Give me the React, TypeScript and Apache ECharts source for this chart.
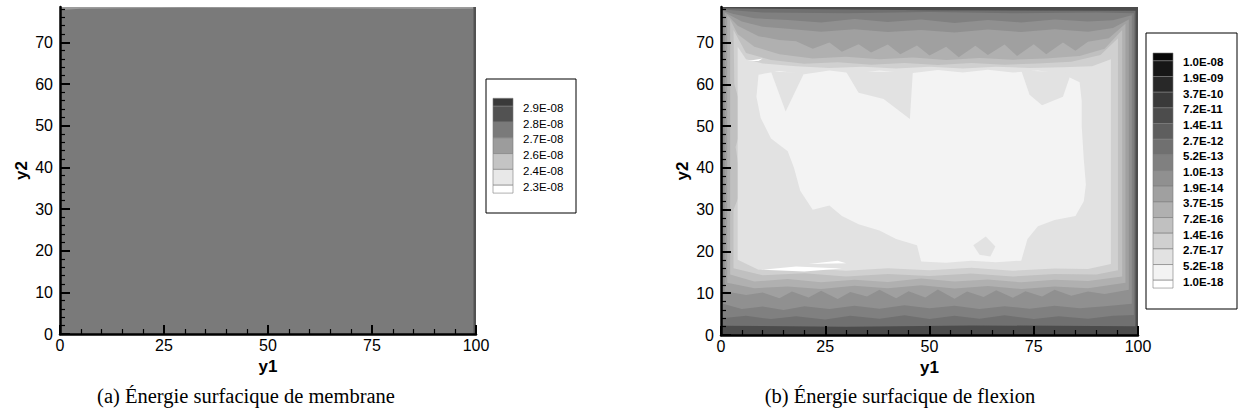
import React, { useEffect, useRef } from "react";
import * as echarts from "echarts";

// ---------- data ----------
const xTicks = [0, 25, 50, 75, 100];
const yMajorTicks = [0, 10, 20, 30, 40, 50, 60, 70];
const yMinorTicks = [2, 4, 6, 8, 12, 14, 16, 18, 22, 24, 26, 28, 32, 34, 36, 38, 42, 44, 46, 48, 52, 54, 56, 58, 62, 64, 66, 68, 72, 74, 76, 78];
const xMax = 100;
const yMax = 78.5;

// (a) membrane: levels (top -> bottom) and band colours (bottom -> top)
const membraneLevels = ["2.9E-08", "2.8E-08", "2.7E-08", "2.6E-08", "2.4E-08", "2.3E-08"];
const membraneColors = ["#ffffff", "#e8e8e8", "#c4c4c4", "#9c9c9c", "#7a7a7a", "#525252", "#3a3a3a"];

// membrane field: contour bands (painted in order) and their band index
const memField = [[0, 0], [100, 0], [100, 78.5], [0, 78.5]];
const memTopEdge = [[0, 78.5], [0, 77.8], [5, 78.1], [30, 78.3], [60, 78.2], [92, 78.0], [99.3, 78.1], [99.3, 78.5]];
const memRightEdge = [[99.4, 0], [100, 0], [100, 78.5], [99.4, 78.5]];
const membraneContours = [memField, memTopEdge, memRightEdge];
const membraneBands = [4, 3, 5];

// (b) flexion: levels (top -> bottom) and band colours (bottom -> top)
const flexionLevels = ["1.0E-08", "1.9E-09", "3.7E-10", "7.2E-11", "1.4E-11", "2.7E-12", "5.2E-13", "1.0E-13", "1.9E-14", "3.7E-15", "7.2E-16", "1.4E-16", "2.7E-17", "5.2E-18", "1.0E-18"];
const flexionColors = ["#ffffff", "#f3f3f3", "#e2e2e2", "#d0d0d0", "#c0c0c0", "#b0b0b0", "#a0a0a0", "#909090", "#808080", "#707070", "#5e5e5e", "#4c4c4c", "#3a3a3a", "#282828", "#161616", "#080808"];

const flexA = [[0, 0], [100, 0], [100, 78.5], [0, 78.5]];
const flexB = [[0.1, 2.2], [30, 2.0], [60, 2.3], [99.4, 2.1], [99.4, 77.6], [50, 77.7], [0.1, 78.2]];
const flexC = [[0.25, 4.0], [6, 4.6], [12, 3.8], [18, 4.5], [25, 3.7], [31, 4.6], [38, 3.9], [44, 4.7], [50, 3.8], [56, 4.6], [62, 3.9], [68, 4.7], [75, 3.8], [81, 4.5], [88, 3.9], [94, 4.6], [99, 4.8], [99, 77.0], [90, 77.2], [70, 77.0], [50, 77.3], [30, 77.0], [10, 77.2], [0.25, 77.9]];
const flexD = [[0.5, 7.5], [5, 6.2], [10, 6.8], [15, 6.0], [20, 6.9], [26, 6.2], [32, 7.0], [38, 6.3], [44, 7.1], [50, 6.4], [56, 7.0], [62, 6.2], [68, 6.9], [74, 6.3], [80, 7.0], [86, 6.4], [92, 6.9], [98.5, 7.5], [98.5, 76.5], [94, 75.3], [88, 75.0], [80, 75.5], [72, 74.8], [64, 75.4], [56, 74.7], [48, 75.5], [40, 74.9], [32, 75.6], [24, 74.8], [16, 75.4], [8, 75.8], [3, 76.8], [0.5, 77.6]];
const flexE = [[0.9, 10.5], [6, 9.6], [10, 10.2], [14, 8.8], [17, 10.4], [21, 9.0], [24, 10.6], [28, 8.6], [31, 10.3], [35, 9.2], [38, 10.8], [42, 8.8], [45, 10.5], [49, 9.0], [52, 10.9], [56, 8.7], [59, 10.4], [63, 9.1], [66, 10.7], [70, 8.9], [73, 10.5], [77, 9.2], [80, 10.8], [84, 9.4], [88, 10.4], [92, 9.8], [97.8, 10.8], [97.8, 75.5], [94, 73.5], [88, 72.6], [80, 73.2], [72, 72.5], [64, 73.1], [56, 72.4], [48, 73.0], [40, 72.5], [32, 73.2], [24, 72.6], [16, 73.3], [10, 73.8], [5, 75], [0.9, 77.2]];
const flexF = [[1.5, 12.5], [8, 11.2], [16, 11.6], [24, 11.0], [32, 11.8], [40, 11.2], [48, 11.9], [56, 11.1], [64, 11.7], [72, 11.0], [80, 11.6], [88, 11.2], [97, 12.5], [97, 74.5], [93, 71], [88, 70.2], [85, 68.0], [82, 70.0], [78, 67.2], [75, 69.6], [71, 66.8], [68, 69.5], [64, 67.0], [61, 69.2], [57, 66.5], [54, 69.0], [50, 66.9], [47, 69.3], [43, 67.2], [40, 69.5], [36, 67.6], [33, 69.6], [29, 67.8], [26, 70.0], [22, 68.5], [18, 70.3], [14, 70.6], [9, 71.5], [4, 74], [1.5, 76.6]];
const flexG = [[2.2, 14.5], [8, 12.8], [16, 13.4], [24, 12.6], [32, 13.2], [40, 12.7], [48, 13.5], [56, 12.8], [64, 13.3], [72, 12.6], [80, 13.2], [88, 12.9], [96.2, 14.0], [96.2, 73], [92, 68.5], [86, 66.8], [78, 66.2], [70, 65.9], [62, 66.3], [54, 65.8], [46, 66.4], [38, 66.0], [30, 66.6], [22, 66.2], [14, 67.2], [8, 69], [4, 72], [2.2, 75.5]];
const flexH = [[3, 16], [10, 14.3], [20, 14.8], [30, 14.0], [40, 14.6], [50, 14.1], [60, 14.7], [70, 14.0], [80, 14.6], [90, 14.5], [95.2, 15.5], [95.2, 71], [91, 67], [84, 65.4], [76, 65.0], [68, 64.7], [60, 65.1], [52, 64.6], [44, 65.1], [36, 64.7], [28, 65.3], [20, 64.9], [12, 65.8], [6, 67.5], [3, 73], [3.2, 60], [5.5, 52], [3.5, 45], [5, 35], [3, 30]];
const flexI = [[4, 18], [9, 15.6], [20, 16.0], [30, 15.4], [40, 16.0], [50, 15.5], [60, 16.1], [70, 15.4], [80, 15.9], [88, 15.8], [93.5, 17], [93.5, 66], [89, 64.3], [82, 64.1], [74, 63.9], [66, 64.2], [58, 63.8], [50, 64.2], [42, 63.8], [34, 64.2], [26, 63.9], [18, 64.3], [10, 65], [6, 66], [4, 69]];
const flexJ = [[9, 62.3], [14, 63.2], [20, 62.4], [26, 63.3], [32, 62.6], [38, 63.3], [45, 62.6], [52, 63.4], [58, 62.8], [64, 63.5], [70, 62.8], [76, 63.3], [82, 62.4], [86, 60.5], [86.5, 56], [86.5, 50], [87, 42], [87.5, 36], [87, 32], [85, 28.5], [80, 27.5], [76, 26], [73.5, 23], [72, 17.8], [66, 17.4], [60, 17.8], [54, 17.3], [48, 17.6], [47.5, 19.5], [47, 21.5], [42, 23], [38, 25], [33, 26.5], [29, 28.5], [26, 31], [22, 30], [19, 34.5], [17.5, 40], [16, 44], [12, 47], [9.5, 52], [8.5, 57]];
const flexSpikeTop = [[30, 63], [46, 63], [45.3, 51.7], [39, 56.5], [33, 58]];
const flexSpikeLeft = [[12, 63], [20, 62.8], [15.5, 53.5]];
const flexPatchRight = [[72, 63.3], [84, 62.8], [82, 57], [77, 55], [74, 57.5]];
const flexDiamond = [[60.5, 21.5], [63.5, 23.6], [65.8, 21.2], [64.6, 18.8], [62, 19.2]];
const flexStreak1 = [[9.5, 15.6], [18, 16.4], [29, 15.9], [20, 15.2]];
const flexStreak2 = [[21, 17.0], [28, 17.8], [30, 17.2]];
const flexStreak3 = [[6.4, 65.6], [10, 66.2], [9, 65.6]];

const flexionContours = [flexA, flexB, flexC, flexD, flexE, flexF, flexG, flexH, flexI, flexJ, flexSpikeTop, flexSpikeLeft, flexPatchRight, flexDiamond, flexStreak1, flexStreak2, flexStreak3];
const flexionBands = [11, 9, 8, 7, 6, 5, 4, 3, 2, 1, 2, 2, 2, 2, 0, 0, 0];

const captionA = "(a) Énergie surfacique de membrane";
const captionB = "(b) Énergie surfacique de flexion";

// ---------- helpers ----------
const FONT = "Liberation Sans";

function makeRender(contours: number[][][], bands: number[], colors: string[]) {
  return (params: any, api: any) => {
    const poly = contours[params.dataIndex];
    const pts = poly.map((p) => api.coord(p));
    return {
      type: "polygon",
      shape: { points: pts },
      style: { fill: colors[bands[params.dataIndex]], stroke: null },
    };
  };
}

function buildLegend(
  box: { x: number; y: number; w: number; h: number },
  swX: number,
  swTop: number,
  unit: number,
  labels: string[],
  colors: string[],
  bold: boolean
) {
  const els: any[] = [];
  els.push({
    type: "rect",
    shape: { x: box.x, y: box.y, width: box.w, height: box.h },
    style: { fill: "#fff", stroke: "#000", lineWidth: 1 },
    z: 10,
  });
  const n = labels.length;
  let y = swTop;
  for (let b = n; b >= 0; b--) {
    const h = b === n || b === 0 ? unit / 2 : unit;
    els.push({
      type: "rect",
      shape: { x: swX, y, width: 20, height: h },
      style: { fill: colors[b], stroke: "#7a7a7a", lineWidth: 0.6 },
      z: 11,
    });
    y += h;
  }
  labels.forEach((t, i) => {
    els.push({
      type: "text",
      x: swX + 30,
      y: swTop + unit / 2 + i * unit + 1.5,
      style: {
        text: t,
        fill: "#000",
        fontSize: 11.5,
        fontFamily: FONT,
        fontWeight: bold ? "bold" : "normal",
        align: "left",
        verticalAlign: "middle",
      },
      z: 12,
    });
  });
  return els;
}

function xAxisCfg(gridIndex: number) {
  return {
    gridIndex,
    type: "value",
    min: 0,
    max: xMax,
    interval: 25,
    z: 5,
    axisLine: { show: true, onZero: false, lineStyle: { color: "#000", width: 2.5 } },
    axisTick: { show: true, inside: true, length: 9, customValues: xTicks, lineStyle: { color: "#000", width: 2 } },
    minorTick: { show: true, splitNumber: 5, length: 5, lineStyle: { color: "#000", width: 1.2 } },
    axisLabel: { show: true, customValues: xTicks, color: "#000", fontSize: 16, fontFamily: FONT, margin: 3 },
    splitLine: { show: false },
    minorSplitLine: { show: false },
    name: "y1",
    nameLocation: "middle",
    nameGap: 16,
    nameTextStyle: { color: "#000", fontSize: 17, fontWeight: "bold", fontFamily: FONT },
  };
}

function yAxisCfg(gridIndex: number) {
  return {
    gridIndex,
    type: "value",
    position: "left",
    min: 0,
    max: yMax,
    z: 5,
    axisLine: { show: true, onZero: false, lineStyle: { color: "#000", width: 2.5 } },
    axisTick: { show: true, inside: true, length: 10, customValues: yMajorTicks, lineStyle: { color: "#000", width: 2 } },
    axisLabel: { show: true, customValues: yMajorTicks, color: "#000", fontSize: 16, fontFamily: FONT, margin: 7 },
    splitLine: { show: false },
    name: "y2",
    nameLocation: "middle",
    nameGap: 30,
    nameTextStyle: { color: "#000", fontSize: 17, fontWeight: "bold", fontFamily: FONT },
  };
}

function yMinorCfg(gridIndex: number) {
  return {
    gridIndex,
    type: "value",
    position: "left",
    min: 0,
    max: yMax,
    z: 5,
    axisLine: { show: false },
    axisTick: { show: true, inside: true, length: 5, customValues: yMinorTicks, lineStyle: { color: "#000", width: 1.2 } },
    axisLabel: { show: false },
    splitLine: { show: false },
  };
}

export default function App() {
  const ref = useRef<HTMLDivElement>(null);

  useEffect(() => {
    if (!ref.current) return;
    const chart = echarts.init(ref.current, undefined, { renderer: "svg" });

    const graphics: any[] = [
      ...buildLegend({ x: 486, y: 79, w: 90, h: 134 }, 493, 98.3, 15.8, membraneLevels, membraneColors, false),
      ...buildLegend({ x: 1146, y: 33, w: 91, h: 276 }, 1153, 53, 15.67, flexionLevels, flexionColors, true),
      {
        type: "text",
        x: 246,
        y: 396,
        style: { text: captionA, fill: "#000", fontSize: 20.5, fontFamily: "Liberation Serif", align: "center", verticalAlign: "middle" },
      },
      {
        type: "text",
        x: 900,
        y: 396,
        style: { text: captionB, fill: "#000", fontSize: 20.5, fontFamily: "Liberation Serif", align: "center", verticalAlign: "middle" },
      },
    ];

    chart.setOption({
      animation: false,
      backgroundColor: "#fff",
      textStyle: { fontFamily: FONT },
      grid: [
        { left: 60, top: 7, width: 416, height: 327 },
        { left: 721, top: 7, width: 417, height: 328 },
      ],
      xAxis: [xAxisCfg(0), xAxisCfg(1)],
      yAxis: [yAxisCfg(0), yMinorCfg(0), yAxisCfg(1), yMinorCfg(1)],
      series: [
        {
          type: "custom",
          xAxisIndex: 0,
          yAxisIndex: 0,
          z: 1,
          silent: true,
          clip: true,
          data: membraneContours.map((_, i) => [i]),
          renderItem: makeRender(membraneContours, membraneBands, membraneColors),
        },
        {
          type: "custom",
          xAxisIndex: 1,
          yAxisIndex: 2,
          z: 1,
          silent: true,
          clip: true,
          data: flexionContours.map((_, i) => [i]),
          renderItem: makeRender(flexionContours, flexionBands, flexionColors),
        },
      ],
      graphic: graphics,
    });

    return () => chart.dispose();
  }, []);

  return (
    <div
      ref={ref}
      style={{ position: "fixed", left: 0, top: 0, width: 1242, height: 418, background: "#fff" }}
    />
  );
}
